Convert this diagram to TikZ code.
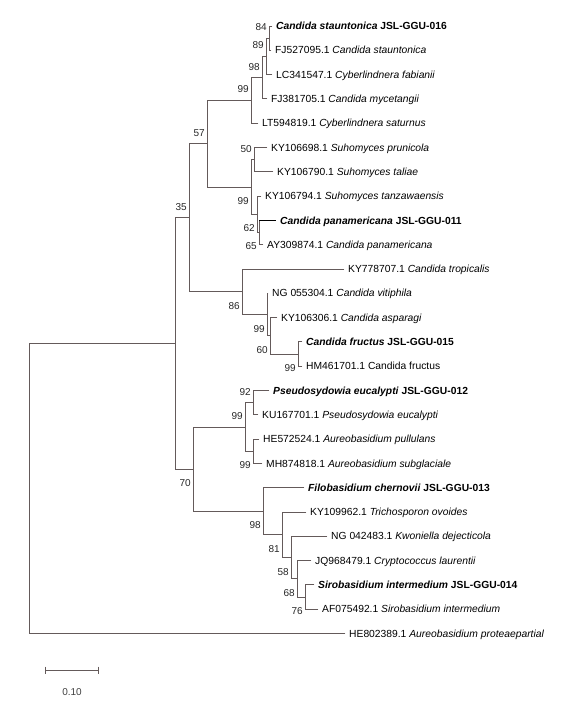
\documentclass[tikz,border=0pt]{standalone}
\usepackage{fontspec}
\setmainfont{Liberation Sans}
\usetikzlibrary{calc}
\definecolor{brc}{RGB}{100,90,90}
\tikzset{
  br/.style={draw=brc, line width=0.9pt, line cap=rect},
  leaf/.style={anchor=base west, inner sep=0pt, font=\fontsize{10.3}{12}\selectfont},
  lbl/.style={anchor=east, inner sep=0pt, font=\fontsize{10}{12}\selectfont, text=black!85},
}
\newcommand{\lab}[3]{\node[lbl] (l#1) at ($(#1)+(-2,#2)$) {#3};}
\begin{document}
\begin{tikzpicture}[x=1pt,y=-1pt]
\useasboundingbox (0,0) rectangle (587,709);
% internal nodes
\coordinate (root) at (29,488.46);
\coordinate (nA) at (175,343.42);
\coordinate (n35) at (189,217.74);
\coordinate (n57) at (207,143.7);
\coordinate (n99a) at (251,100.42);
\coordinate (n98) at (262,77.64);
\coordinate (n89) at (266,56.38);
\coordinate (n84) at (269,38.15);
\coordinate (n99b) at (251,186.99);
\coordinate (n50) at (254,159.65);
\coordinate (n62) at (257,214.33);
\coordinate (n65) at (259,232.55);
\coordinate (n86) at (242,291.78);
\coordinate (n99c) at (267,314.56);
\coordinate (n60) at (270,335.83);
\coordinate (n99d) at (298,354.05);
\coordinate (n70) at (193,469.1);
\coordinate (n99e) at (245,426.95);
\coordinate (n92) at (253,402.65);
\coordinate (n99f) at (253,451.25);
\coordinate (n98b) at (263,511.24);
\coordinate (n81) at (282,534.78);
\coordinate (n58) at (291,557.56);
\coordinate (n68) at (297,578.83);
\coordinate (n76) at (305,597.05);
% leaf ends
\coordinate (e1) at (272,26);
\coordinate (e2) at (271,50.3);
\coordinate (e3) at (272,74.6);
\coordinate (e4) at (267,98.9);
\coordinate (e5) at (258,123.2);
\coordinate (e6) at (267,147.5);
\coordinate (e7) at (273,171.8);
\coordinate (e8) at (261,196.1);
\coordinate (e9) at (276,220.4);
\coordinate (e10) at (263,244.7);
\coordinate (e11) at (344,269);
\coordinate (e12) at (268,293.3);
\coordinate (e13) at (277,317.6);
\coordinate (e14) at (302,341.9);
\coordinate (e15) at (302,366.2);
\coordinate (e16) at (269,390.5);
\coordinate (e17) at (258,414.8);
\coordinate (e18) at (259,439.1);
\coordinate (e19) at (262,463.4);
\coordinate (e20) at (304,487.7);
\coordinate (e21) at (306,512);
\coordinate (e22) at (327,536.3);
\coordinate (e23) at (311,560.6);
\coordinate (e24) at (314,584.9);
\coordinate (e25) at (318,609.2);
\coordinate (e26) at (345,633.5);
% branches
\draw[br] (root) |- (nA) (root) |- (e26);
\draw[br] (nA) |- (n35) (nA) |- (n70);
\draw[br] (n35) |- (n57) (n35) |- (n86);
\draw[br] (n57) |- (n99a) (n57) |- (n99b);
\draw[br] (n99a) |- (n98) (n99a) |- (e5);
\draw[br] (n98) |- (n89) (n98) |- (e4);
\draw[br] (n89) |- (n84) (n89) |- (e3);
\draw[br] (n84) |- (e1) (n84) |- (e2);
\draw[br] (n99b) |- (n50) (n99b) |- (n62);
\draw[br] (n50) |- (e6) (n50) |- (e7);
\draw[br] (n62) |- (e8) (n62) |- (n65);
\draw[br] (n65) -- (n65 |- e9) (n65) |- (e10);
\draw[line width=0.9pt, black] (n65 |- e9) -- (e9);
\draw[br] (n86) |- (e11) (n86) |- (n99c);
\draw[br] (n99c) |- (e12) (n99c) |- (n60);
\draw[br] (n60) |- (e13) (n60) |- (n99d);
\draw[br] (n99d) |- (e14) (n99d) |- (e15);
\draw[br] (n70) |- (n99e) (n70) |- (n98b);
\draw[br] (n99e) |- (n92) (n99e) |- (n99f);
\draw[br] (n92) |- (e16) (n92) |- (e17);
\draw[br] (n99f) |- (e18) (n99f) |- (e19);
\draw[br] (n98b) |- (e20) (n98b) |- (n81);
\draw[br] (n81) |- (e21) (n81) |- (n58);
\draw[br] (n58) |- (e22) (n58) |- (n68);
\draw[br] (n68) |- (e23) (n68) |- (n76);
\draw[br] (n76) |- (e24) (n76) |- (e25);
% leaf texts
\node[leaf] (t1) at ($(e1)+(4,3.6)$) {\textbf{\textit{Candida stauntonica} JSL-GGU-016}};
\node[leaf] (t2) at ($(e2)+(4,3.6)$) {FJ527095.1 \textit{Candida stauntonica}};
\node[leaf] (t3) at ($(e3)+(4,3.6)$) {LC341547.1 \textit{Cyberlindnera fabianii}};
\node[leaf] (t4) at ($(e4)+(4,3.6)$) {FJ381705.1 \textit{Candida mycetangii}};
\node[leaf] (t5) at ($(e5)+(4,3.6)$) {LT594819.1 \textit{Cyberlindnera saturnus}};
\node[leaf] (t6) at ($(e6)+(4,3.6)$) {KY106698.1 \textit{Suhomyces prunicola}};
\node[leaf] (t7) at ($(e7)+(4,3.6)$) {KY106790.1 \textit{Suhomyces taliae}};
\node[leaf] (t8) at ($(e8)+(4,3.6)$) {KY106794.1 \textit{Suhomyces tanzawaensis}};
\node[leaf] (t9) at ($(e9)+(4,3.6)$) {\textbf{\textit{Candida panamericana} JSL-GGU-011}};
\node[leaf] (t10) at ($(e10)+(4,3.6)$) {AY309874.1 \textit{Candida panamericana}};
\node[leaf] (t11) at ($(e11)+(4,3.6)$) {KY778707.1 \textit{Candida tropicalis}};
\node[leaf] (t12) at ($(e12)+(4,3.6)$) {NG 055304.1 \textit{Candida vitiphila}};
\node[leaf] (t13) at ($(e13)+(4,3.6)$) {KY106306.1 \textit{Candida asparagi}};
\node[leaf] (t14) at ($(e14)+(4,3.6)$) {\textbf{\textit{Candida fructus} JSL-GGU-015}};
\node[leaf] (t15) at ($(e15)+(4,3.6)$) {HM461701.1 Candida fructus};
\node[leaf] (t16) at ($(e16)+(4,3.6)$) {\textbf{\textit{Pseudosydowia eucalypti} JSL-GGU-012}};
\node[leaf] (t17) at ($(e17)+(4,3.6)$) {KU167701.1 \textit{Pseudosydowia eucalypti}};
\node[leaf] (t18) at ($(e18)+(4,3.6)$) {HE572524.1 \textit{Aureobasidium pullulans}};
\node[leaf] (t19) at ($(e19)+(4,3.6)$) {MH874818.1 \textit{Aureobasidium subglaciale}};
\node[leaf] (t20) at ($(e20)+(4,3.6)$) {\textbf{\textit{Filobasidium chernovii} JSL-GGU-013}};
\node[leaf] (t21) at ($(e21)+(4,3.6)$) {KY109962.1 \textit{Trichosporon ovoides}};
\node[leaf] (t22) at ($(e22)+(4,3.6)$) {NG 042483.1 \textit{Kwoniella dejecticola}};
\node[leaf] (t23) at ($(e23)+(4,3.6)$) {JQ968479.1 \textit{Cryptococcus laurentii}};
\node[leaf] (t24) at ($(e24)+(4,3.6)$) {\textbf{\textit{Sirobasidium intermedium} JSL-GGU-014}};
\node[leaf] (t25) at ($(e25)+(4,3.6)$) {AF075492.1 \textit{Sirobasidium intermedium}};
\node[leaf] (t26) at ($(e26)+(4,3.6)$) {HE802389.1 \textit{Aureobasidium proteaepartial}};
% bootstrap labels
\lab{n84}{-11}{84}
\lab{n89}{-11}{89}
\lab{n98}{-11}{98}
\lab{n99a}{-11}{99}
\lab{n57}{-11}{57}
\lab{n35}{-11}{35}
\lab{n50}{-11}{50}
\lab{n99b}{14}{99}
\lab{n62}{14}{62}
\lab{n65}{14}{65}
\lab{n86}{14}{86}
\lab{n99c}{14}{99}
\lab{n60}{14}{60}
\lab{n99d}{14}{99}
\lab{n92}{-11}{92}
\lab{n99e}{-11}{99}
\lab{n99f}{14}{99}
\lab{n70}{14}{70}
\lab{n98b}{14}{98}
\lab{n81}{14}{81}
\lab{n58}{14}{58}
\lab{n68}{14}{68}
\lab{n76}{14}{76}
% scale bar
\coordinate (sbL) at (45,670);
\coordinate (sbR) at (98,670);
\draw[br, line cap=butt] (sbL) -- (sbR);
\draw[br, line cap=butt] ($(sbL)+(0,-3.5)$) -- ($(sbL)+(0,3.5)$);
\draw[br, line cap=butt] ($(sbR)+(0,-3.5)$) -- ($(sbR)+(0,3.5)$);
\node[inner sep=0pt, font=\fontsize{10}{12}\selectfont, text=black!75] (sbt) at (72,692) {0.10};
\end{tikzpicture}
\end{document}
